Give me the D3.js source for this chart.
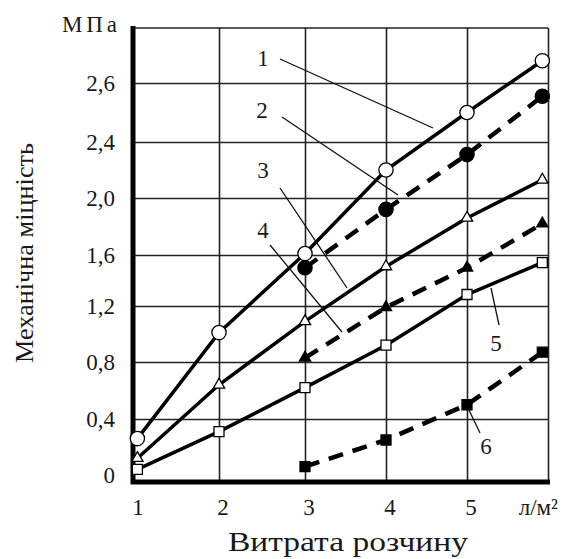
<!DOCTYPE html>
<html>
<head>
<meta charset="utf-8">
<script src="https://cdn.jsdelivr.net/npm/d3@7"></script>
<style>
  body { margin: 0; background: #fff; }
</style>
</head>
<body>
<script>
// дані
const xFull = [1.04, 2, 3, 4, 5, 5.93];
const xHalf = [3, 4, 5, 5.93];
const curve1 = [0.26, 1.01, 1.61, 2.2, 2.6, 2.95];
const curve2 = [1.5, 1.92, 2.31, 2.71];
const curve3 = [0.12, 0.64, 1.09, 1.51, 1.86, 2.13];
const curve4 = [0.83, 1.19, 1.5, 1.82];
const curve5 = [0.04, 0.31, 0.62, 0.92, 1.29, 1.54];
const curve6 = [0.06, 0.25, 0.5, 0.87];

const xTicks = [1, 2, 3, 4, 5, 6];
const xTickLabels = ["1", "2", "3", "4", "5", "л/м²"];
const yTicks = [0, 0.4, 0.8, 1.2, 1.6, 2.0, 2.4, 2.8];
const yTickLabels = ["0", "0,4", "0,8", "1,2", "1,6", "2,0", "2,4", "2,6"];

const width = 562;
const height = 559;
const serif = "Liberation Serif";

const svg = d3.select("body").append("svg")
  .attr("width", width).attr("height", height);

// шкали (сітка на рисунку трохи нерівномірна)
const x = d3.scaleLinear()
  .domain([1, 2, 3, 4, 5, 6])
  .range([134, 219, 305, 386, 467, 548]);
const y = d3.scaleLinear()
  .domain([-0.05, 0, 0.4, 0.8, 1.2, 1.6, 2.0, 2.4, 2.8, 3.17])
  .range([482, 475, 419, 362, 306, 255, 198, 142, 83, 28]);

const xL = x(1), xR = x(6), yT = y(3.17), yB = y(-0.05);

// сітка
svg.append("g")
  .attr("transform", `translate(0,${yB})`)
  .call(d3.axisBottom(x).tickValues([2, 3, 4, 5, 6]).tickSize(-(yB - yT)).tickFormat(""))
  .call(g => g.select(".domain").remove())
  .call(g => g.selectAll("line").attr("stroke", "#222").attr("stroke-width", 1.6));
svg.append("g")
  .attr("transform", `translate(${xL},0)`)
  .call(d3.axisLeft(y).tickValues(yTicks.slice(1)).tickSize(-(xR - xL)).tickFormat(""))
  .call(g => g.select(".domain").remove())
  .call(g => g.selectAll("line").attr("stroke", "#222").attr("stroke-width", 1.6));

// рамка
svg.append("line").attr("x1", xL).attr("x2", xR).attr("y1", yT).attr("y2", yT)
  .attr("stroke", "#222").attr("stroke-width", 1.6);
svg.append("line").attr("x1", xL - 1).attr("x2", xL - 1).attr("y1", yT - 2).attr("y2", yB + 2)
  .attr("stroke", "#000").attr("stroke-width", 5);
svg.append("line").attr("x1", xL - 3).attr("x2", xR + 2).attr("y1", yB).attr("y2", yB)
  .attr("stroke", "#000").attr("stroke-width", 5);

function txt(sel) {
  return sel.attr("font-family", serif).attr("fill", "#1a1a1a");
}

// підписи осей
svg.append("g")
  .selectAll("text")
  .data(yTicks)
  .join("text")
  .call(txt)
  .attr("x", 115)
  .attr("y", d => y(d))
  .attr("dy", "0.35em")
  .attr("text-anchor", "end")
  .attr("font-size", 23)
  .text((d, i) => yTickLabels[i]);

svg.append("g")
  .selectAll("text")
  .data(xTicks)
  .join("text")
  .call(txt)
  .attr("x", (d, i) => i === 5 ? 558 : x(d) + 4)
  .attr("y", 515)
  .attr("text-anchor", (d, i) => i === 5 ? "end" : "middle")
  .attr("font-size", 23)
  .text((d, i) => xTickLabels[i]);

svg.append("text").call(txt).attr("x", 62).attr("y", 32)
  .attr("font-size", 23).attr("textLength", 55).attr("lengthAdjust", "spacing")
  .text("МПа");

svg.append("text").call(txt).attr("x", 228).attr("y", 551)
  .attr("font-size", 28).attr("textLength", 240).attr("lengthAdjust", "spacingAndGlyphs")
  .text("Витрата розчину");

svg.append("text").call(txt)
  .attr("transform", "translate(33,363) rotate(-90)")
  .attr("font-size", 26).attr("textLength", 220).attr("lengthAdjust", "spacingAndGlyphs")
  .text("Механічна міцність");

// криві
const series = [
  { xs: xFull, ys: curve1, dash: null, marker: "circle", fill: "#fff" },
  { xs: xHalf, ys: curve2, dash: "15,10", marker: "circle", fill: "#000" },
  { xs: xFull, ys: curve3, dash: null, marker: "triangle", fill: "#fff" },
  { xs: xHalf, ys: curve4, dash: "15,10", marker: "triangle", fill: "#000" },
  { xs: xFull, ys: curve5, dash: null, marker: "square", fill: "#fff" },
  { xs: xHalf, ys: curve6, dash: "15,10", marker: "square", fill: "#000" }
];

const line = d3.line().x(d => x(d[0])).y(d => y(d[1]));

series.forEach(s => {
  const pts = s.xs.map((v, i) => [v, s.ys[i]]);
  svg.append("path")
    .attr("d", line(pts))
    .attr("fill", "none")
    .attr("stroke", "#000")
    .attr("stroke-width", s.dash ? 4.5 : 3.5)
    .attr("stroke-dasharray", s.dash);

  const sym = s.marker === "circle" ? d3.symbolCircle
    : s.marker === "triangle" ? d3.symbolTriangle : d3.symbolSquare;
  const size = s.marker === "circle" ? 160 : s.marker === "triangle" ? 55 : 100;
  svg.append("g")
    .selectAll("path")
    .data(pts)
    .join("path")
    .attr("transform", d => `translate(${x(d[0])},${y(d[1])})`)
    .attr("d", d3.symbol(sym, size))
    .attr("fill", s.fill)
    .attr("stroke", "#000")
    .attr("stroke-width", 1.3);
});

// номери кривих з виносками
const labelNames = ["1", "2", "3", "4", "5", "6"];
const labelPos = [[263, 58], [262, 110], [263, 170], [263, 230], [496, 343], [486, 446]];
const leaders = [
  [[280, 59], [433, 128]],
  [[282, 117], [398, 195]],
  [[280, 188], [347, 288]],
  [[270, 245], [342, 332]],
  [[491, 288], [499, 325]],
  [[468, 408], [480, 433]]
];

svg.append("g")
  .selectAll("line")
  .data(leaders)
  .join("line")
  .attr("x1", d => d[0][0]).attr("y1", d => d[0][1])
  .attr("x2", d => d[1][0]).attr("y2", d => d[1][1])
  .attr("stroke", "#111").attr("stroke-width", 1.3);

svg.append("g")
  .selectAll("text")
  .data(labelNames)
  .join("text")
  .call(txt)
  .attr("x", (d, i) => labelPos[i][0])
  .attr("y", (d, i) => labelPos[i][1])
  .attr("dy", "0.35em")
  .attr("text-anchor", "middle")
  .attr("font-size", 23)
  .text(d => d);
</script>
</body>
</html>
